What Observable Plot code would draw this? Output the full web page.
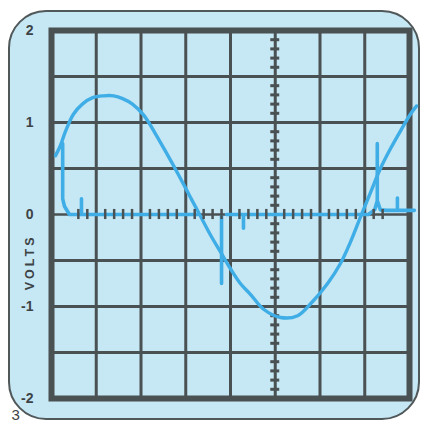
<!DOCTYPE html>
<html>
<head>
<meta charset="utf-8">
<script src="https://cdn.jsdelivr.net/npm/d3@7"></script>
<script src="https://cdn.jsdelivr.net/npm/@observablehq/plot@0.6"></script>
<style>
  html, body { margin: 0; padding: 0; background: #ffffff; }
  #wrap { position: relative; width: 421px; height: 424px; overflow: hidden; }
  #bezel {
    position: absolute; left: 8px; top: 10px; width: 408px; height: 406px;
    border: 2.5px solid #50585a; border-radius: 38px; background: #c6e7f4;
  }
  #chart { position: absolute; left: 0; top: 0; }
</style>
</head>
<body>
<div id="wrap"><div id="bezel"></div><div id="chart"></div></div>
<script>
// Graticule (time in divisions, voltage in volts)
const xMajor = [1, 2, 3, 4, 5, 6, 7];
const yMajor = [-1.5, -1, -0.5, 0.5, 1, 1.5];
const yTickLabels = [-2, -1, 0, 1, 2];
const centerDiv = 5;
const xMinor = d3.range(0.6, 7.6, 0.2).filter(d => Math.abs(d - Math.round(d)) > 0.05);
const yMinor = d3.range(-1.9, 2, 0.1).filter(d => Math.abs(d * 2 - Math.round(d * 2)) > 0.05);

// Sine trace
const sineT = [0.09,0.20,0.31,0.49,0.69,0.92,1.16,1.39,1.59,1.81,2.06,2.32,2.59,2.84,3.08,3.31,3.55,3.78,4.00,4.22,4.45,4.74,5.12,5.50,5.79,6.17,6.46,6.68,6.91,7.13,7.35,7.58,7.80,8.02,8.16];
const sineV = [0.64,0.75,0.90,1.09,1.20,1.27,1.29,1.29,1.26,1.20,1.08,0.88,0.65,0.43,0.21,0.00,-0.22,-0.41,-0.59,-0.75,-0.87,-1.03,-1.12,-1.10,-0.97,-0.75,-0.53,-0.30,-0.02,0.24,0.50,0.72,0.91,1.09,1.18];

// Baseline / pulse trace (null = break in the trace)
const pulseT = [0.25,0.25,0.29,0.40,0.67,0.67,0.67,3.28,null,3.80,3.80,null,3.91,4.29,4.29,4.29,7.08,7.22,7.28,7.28,7.28,7.35,7.49,7.73,7.73,7.73,8.11];
const pulseV = [0.77,0.17,0.09,0.00,0.00,0.17,0.00,0.00,null,-0.02,-0.75,null,0.00,0.00,-0.15,0.00,0.00,0.05,0.15,0.77,0.15,0.05,0.045,0.045,0.18,0.045,0.045];

const sine = sineT.map((t, i) => ({t, v: sineV[i]}));
const pulse = pulseT.map((t, i) => ({t, v: pulseV[i]}));

const grid = "#4a5153";
const trace = "#3fade6";
const ink = "#3d4345";
const font = "'Liberation Sans', Arial, sans-serif";

const svg = Plot.plot({
  width: 421, height: 424,
  marginLeft: 51, marginRight: 12, marginTop: 30, marginBottom: 26,
  x: {domain: [0, 8], axis: null},
  y: {domain: [-2, 2], axis: null},
  style: {background: "transparent", overflow: "visible", fontFamily: font},
  marks: [
    Plot.ruleX(xMajor, {stroke: grid, strokeWidth: 3}),
    Plot.ruleY(yMajor, {stroke: grid, strokeWidth: 3}),
    Plot.ruleY([0], {stroke: grid, strokeWidth: 2.5}),
    Plot.ruleY(yMinor, {y: d => d, x1: centerDiv - 0.1, x2: centerDiv + 0.1, stroke: grid, strokeWidth: 3}),
    Plot.frame({stroke: grid, strokeWidth: 6}),
    Plot.line(sine, {x: "t", y: "v", stroke: trace, strokeWidth: 3.4, curve: "catmull-rom", strokeLinecap: "round"}),
    Plot.line(pulse, {x: "t", y: "v", stroke: trace, strokeWidth: 3.6, curve: "linear"}),
    Plot.ruleX(xMinor, {x: d => d, y1: -0.055, y2: 0.055, stroke: grid, strokeWidth: 2.5}),
    Plot.axisY({ticks: yTickLabels, tickSize: 0, tickPadding: 18, fontSize: 14, fontWeight: "bold", fill: ink,
      tickFormat: d => d < 0 ? "-" + Math.abs(d) : String(d), label: null}),
    Plot.text(["VOLTS"], {x: -0.49, y: -0.52, text: d => d, rotate: -90, fontSize: 12.5, fontWeight: "bold", fill: ink}),
    Plot.text(["3"], {x: -0.8, y: -2.18, text: d => d, fontSize: 15, fill: ink})
  ]
});
d3.select(svg).selectAll("text").filter(function() { return this.textContent === "VOLTS"; })
  .attr("letter-spacing", "3");
document.getElementById("chart").appendChild(svg);
</script>
</body>
</html>
